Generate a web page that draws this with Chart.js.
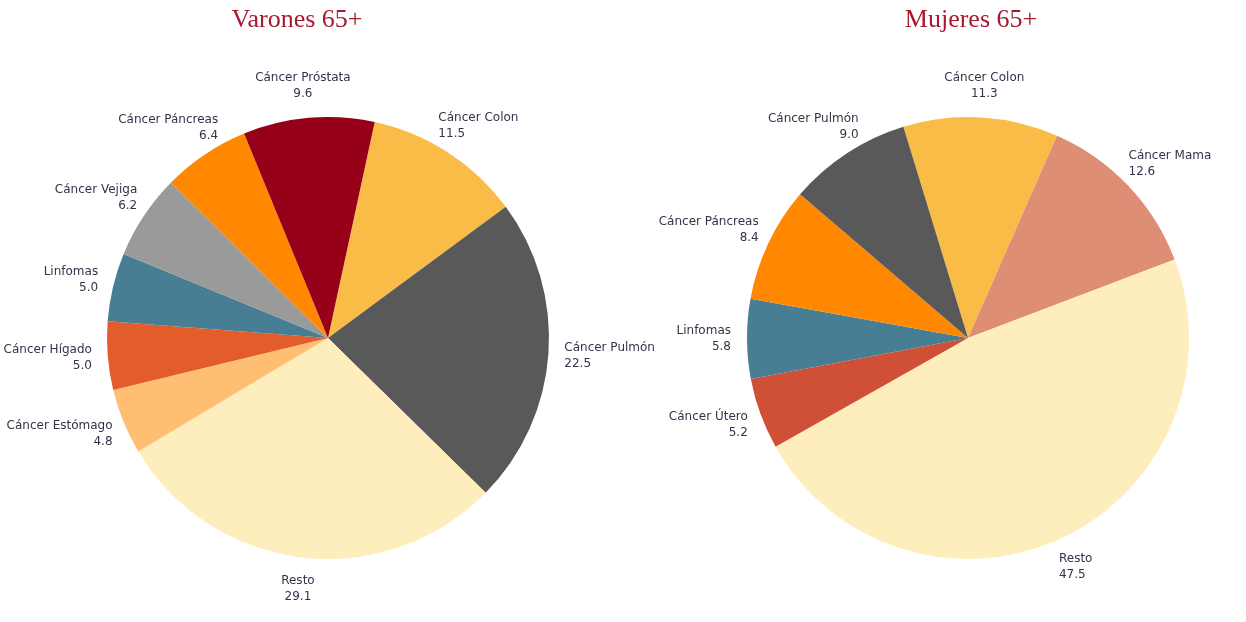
<!DOCTYPE html>
<html>
<head>
<meta charset="utf-8">
<script src="https://cdn.jsdelivr.net/npm/chart.js@4"></script>
<style>
    html, body { margin:0; padding:0; background:#fff; }
    #wrap { position:relative; width:1246px; height:622px; overflow:hidden; }
    .pie-box { position:absolute; top:0; height:622px; }
    .ttl { position:absolute; top:4px; font-family:"Liberation Serif", serif; font-size:26px; color:#A6192E; white-space:nowrap; transform:translateX(-50%); }
</style>
</head>
<body>
<div id="wrap">
    <div class="pie-box" style="left:0;width:680px"><canvas id="chartVarones"></canvas></div>
    <div class="pie-box" style="left:600px;width:646px"><canvas id="chartMujeres"></canvas></div>
    <div class="ttl" style="left:297px">Varones 65+</div>
    <div class="ttl" style="left:971px">Mujeres 65+</div>
</div>
<script>
// Varones 65+ (sentido horario desde Colon)
const varonesLabels = ['Cáncer Colon','Cáncer Pulmón','Resto','Cáncer Estómago','Cáncer Hígado','Linfomas','Cáncer Vejiga','Cáncer Páncreas','Cáncer Próstata'];
const varonesValues = [11.5, 22.5, 29.1, 4.8, 5.0, 5.0, 6.2, 6.4, 9.6];
const varonesColors = ['#F9BC46','#595959','#FFEEBD','#FFBF73','#E35D2A','#477E93','#9A9A9A','#FF8800','#960018'];

// Mujeres 65+
const mujeresLabels = ['Cáncer Colon','Cáncer Mama','Resto','Cáncer Útero','Linfomas','Cáncer Páncreas','Cáncer Pulmón'];
const mujeresValues = [11.3, 12.6, 47.5, 5.2, 5.8, 8.4, 9.0];
const mujeresColors = ['#F9BC46','#DE8E75','#FFEEBD','#CF5036','#477E93','#FF8800','#595959'];

const LABEL_FONT = '12px "DejaVu Sans", Verdana, sans-serif';
const LABEL_COLOR = '#33334A';
const LINE_H = 16;

// etiquetas fuera del sector: nombre + valor
const outsideLabels = {
    id: 'outsideLabels',
    afterDatasetsDraw(chart) {
        const ctx = chart.ctx;
        const meta = chart.getDatasetMeta(0);
        const ds = chart.data.datasets[0];
        ctx.save();
        ctx.font = LABEL_FONT;
        ctx.fillStyle = LABEL_COLOR;
        ctx.textBaseline = 'middle';
        meta.data.forEach((arc, i) => {
            const a = (arc.startAngle + arc.endAngle) / 2;
            const r = arc.outerRadius + 16;
            const cx = Math.cos(a), sy = Math.sin(a);
            const px = arc.x + cx * r, py = arc.y + sy * r;
            const lines = [chart.data.labels[i], ds.data[i].toFixed(1)];
            const w = Math.max(...lines.map(t => ctx.measureText(t).width));
            const h = LINE_H * lines.length;
            const bx = px + cx * w / 2, by = py + sy * h / 2;
            let align = 'center', tx = bx;
            if (cx > 0.3) { align = 'left'; tx = bx - w / 2; }
            else if (cx < -0.3) { align = 'right'; tx = bx + w / 2; }
            ctx.textAlign = align;
            lines.forEach((t, li) => {
                ctx.fillText(t, tx, by - h / 2 + LINE_H * (li + 0.5));
            });
        });
        ctx.restore();
    }
};

function makePie(id, labels, values, colors, rotation, padding) {
    return new Chart(document.getElementById(id), {
        type: 'pie',
        data: {
            labels: labels,
            datasets: [{ data: values, backgroundColor: colors, borderWidth: 0, hoverOffset: 0 }]
        },
        options: {
            responsive: true, maintainAspectRatio: false, animation: false,
            rotation: rotation,
            layout: { padding: padding },
            events: [],
            plugins: { legend: { display:false }, tooltip: { enabled:false }, title: { display:false } }
        },
        plugins: [outsideLabels]
    });
}

makePie('chartVarones', varonesLabels, varonesValues, varonesColors, 12.2, { left:107, right:131, top:117, bottom:63 });
makePie('chartMujeres', mujeresLabels, mujeresValues, mujeresColors, -17, { left:147, right:57, top:117, bottom:63 });
</script>
</body>
</html>
